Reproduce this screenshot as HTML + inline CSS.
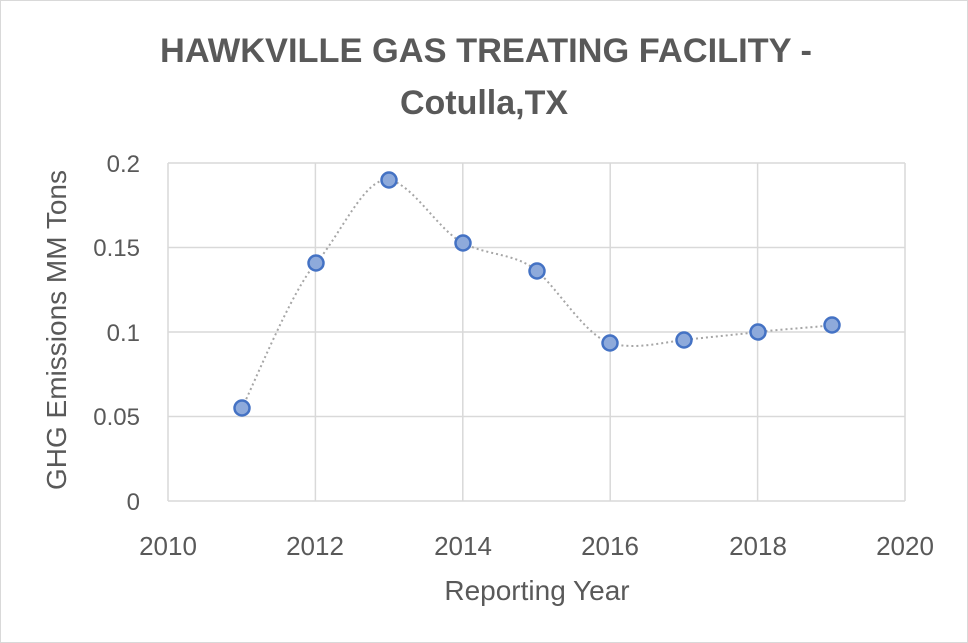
<!DOCTYPE html>
<html><head><style>
html,body{margin:0;padding:0;background:#fff;}
svg{display:block;font-family:"Liberation Sans",sans-serif;}
</style></head><body>
<svg width="968" height="643" viewBox="0 0 968 643" xmlns="http://www.w3.org/2000/svg">
<rect x="0.5" y="0.5" width="967" height="642" fill="#fff" stroke="#d9d9d9"/>
<text x="486" y="62" text-anchor="middle" font-size="34" font-weight="bold" fill="#595959" textLength="652" lengthAdjust="spacingAndGlyphs">HAWKVILLE GAS TREATING FACILITY -</text>
<text x="484" y="114" text-anchor="middle" font-size="34" font-weight="bold" fill="#595959">Cotulla,TX</text>
<g stroke="#d9d9d9" stroke-width="1.5" fill="none">
<line x1="168" y1="163" x2="905" y2="163"/>
<line x1="168" y1="247.5" x2="905" y2="247.5"/>
<line x1="168" y1="332" x2="905" y2="332"/>
<line x1="168" y1="416.5" x2="905" y2="416.5"/>
<line x1="168" y1="501" x2="905" y2="501"/>
<line x1="168" y1="163" x2="168" y2="501"/>
<line x1="315.4" y1="163" x2="315.4" y2="501"/>
<line x1="462.8" y1="163" x2="462.8" y2="501"/>
<line x1="610.2" y1="163" x2="610.2" y2="501"/>
<line x1="757.6" y1="163" x2="757.6" y2="501"/>
<line x1="905" y1="163" x2="905" y2="501"/>
</g>
<g font-size="24" fill="#595959" text-anchor="end">
<text x="140" y="172">0.2</text>
<text x="140" y="256">0.15</text>
<text x="140" y="341">0.1</text>
<text x="140" y="425">0.05</text>
<text x="140" y="510">0</text>
</g>
<g font-size="26" fill="#595959" text-anchor="middle">
<text x="168" y="555">2010</text>
<text x="315" y="555">2012</text>
<text x="463" y="555">2014</text>
<text x="610" y="555">2016</text>
<text x="758" y="555">2018</text>
<text x="905" y="555">2020</text>
</g>
<text x="537" y="600" text-anchor="middle" font-size="28" fill="#595959">Reporting Year</text>
<text transform="translate(66,330) rotate(-90)" text-anchor="middle" font-size="28" fill="#595959">GHG Emissions MM Tons</text>
<path fill="none" stroke="#a6a6a6" stroke-width="2" stroke-dasharray="2,3"
d="M242,408 C254,384 292,290 316,263 C340,236 365,176 389,180 C413,184 438,230 463,243 C488,256 516,253 537,271 C558,289 586,336 610,343 C634,350 659,343 684,340 C709,337 733,335 758,332 C783,329 820,327 832,325"/>
<g fill="#8eaadb" stroke="#4472c4" stroke-width="2.5">
<circle cx="242" cy="408" r="7.5"/>
<circle cx="316" cy="263" r="7.5"/>
<circle cx="389" cy="180" r="7.5"/>
<circle cx="463" cy="243" r="7.5"/>
<circle cx="537" cy="271" r="7.5"/>
<circle cx="610" cy="343" r="7.5"/>
<circle cx="684" cy="340" r="7.5"/>
<circle cx="758" cy="332" r="7.5"/>
<circle cx="832" cy="325" r="7.5"/>
</g>
</svg>
</body></html>
